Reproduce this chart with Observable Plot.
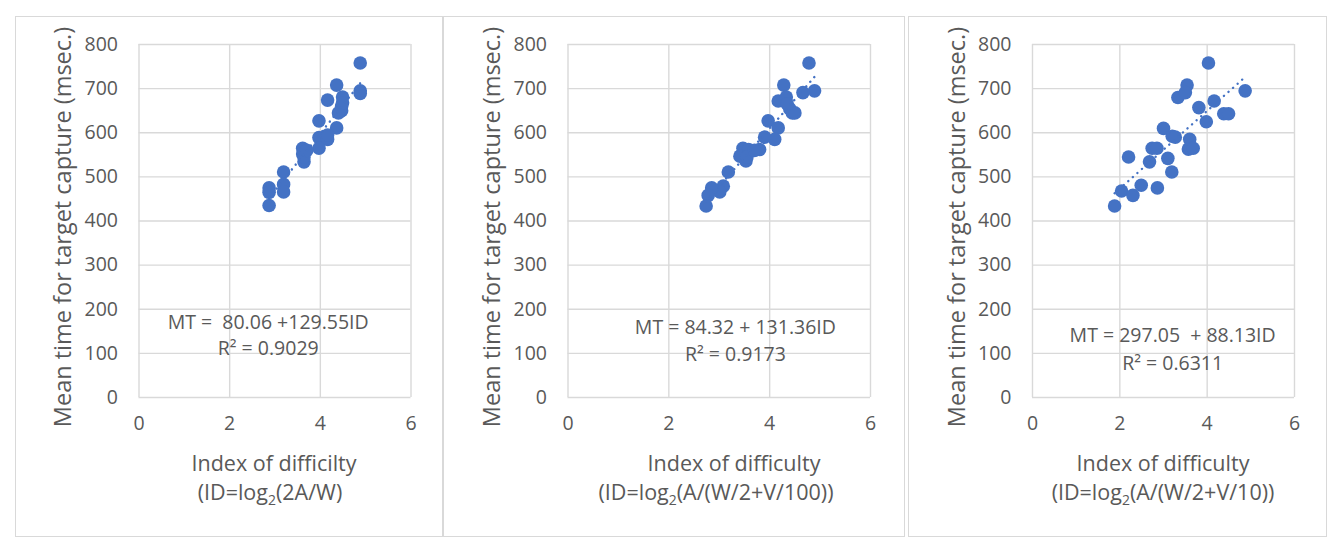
<!DOCTYPE html>
<html>
<head>
<meta charset="utf-8">
<script src="https://cdn.jsdelivr.net/npm/d3@7"></script>
<script src="https://cdn.jsdelivr.net/npm/@observablehq/plot@0.6"></script>
<style>
  html, body { margin: 0; padding: 0; background: #fff; }
  body { width: 1344px; height: 554px; position: relative; overflow: hidden; font-family: "Open Sans", sans-serif; color: #595959; }
  .panel { position: absolute; }
  .frame { position: absolute; border: 1.5px solid #d9d9d9; box-sizing: border-box; pointer-events: none; }
  .t { position: absolute; white-space: nowrap; transform: translate(-50%, -50%); font-size: 21.5px; color: #595959; line-height: 1; }
  .yt { transform: translate(-50%, -50%) rotate(-90deg); font-size: 23.5px; }
  sub { font-size: 0.65em; vertical-align: -0.3em; }
</style>
</head>
<body>
<script>
// ---- data ----
const xTicks = [0, 2, 4, 6];
const yTicks = [0, 100, 200, 300, 400, 500, 600, 700, 800];

const ID1 = [4.88, 4.88, 4.88, 4.36, 4.16, 4.49, 4.47, 4.47, 4.40, 3.97, 4.36, 3.97, 4.16, 4.16, 3.97, 3.61, 3.61, 3.64, 3.64, 3.70, 3.19, 3.19, 3.19, 2.87, 2.87, 2.87, 4.49];
const MT1 = [758, 695, 689, 708, 674, 681, 660, 650, 645, 627, 611, 589, 585, 595, 565, 565, 552, 534, 545, 560, 511, 483, 466, 475, 465, 435, 668];

const ID2 = [4.78, 4.28, 4.66, 4.89, 4.17, 4.33, 4.40, 4.45, 4.50, 3.97, 4.17, 4.10, 3.90, 3.80, 3.47, 3.58, 3.41, 3.53, 3.55, 3.70, 3.18, 3.08, 3.01, 2.85, 2.78, 2.74, 4.35];
const MT2 = [758, 708, 691, 695, 672, 681, 654, 645, 645, 627, 611, 585, 590, 562, 565, 562, 547, 536, 545, 560, 511, 479, 466, 475, 458, 434, 665];

const ID3 = [4.03, 3.54, 3.33, 3.50, 4.87, 4.16, 3.81, 4.38, 4.49, 3.98, 3.00, 3.20, 3.27, 3.60, 3.57, 3.68, 2.74, 2.85, 3.10, 2.68, 2.20, 3.19, 2.49, 2.86, 2.04, 2.30, 1.88];
const MT3 = [758, 708, 680, 691, 695, 672, 657, 643, 643, 625, 610, 592, 590, 585, 563, 565, 565, 565, 542, 534, 545, 511, 481, 475, 468, 458, 434];

const intercepts = [80.06, 84.32, 297.05];
const slopes = [129.55, 131.36, 88.13];
const eqLabels = ["MT =  80.06 +129.55ID", "MT = 84.32 + 131.36ID", "MT = 297.05  + 88.13ID"];
const r2Labels = ["R\u00B2 = 0.9029", "R\u00B2 = 0.9173", "R\u00B2 = 0.6311"];
const yTitle = "Mean time for target capture (msec.)";
const xTitle1 = ["Index of difficilty", "Index of difficulty", "Index of difficulty"];
const xTitle2 = ["(ID=log<sub>2</sub>(2A/W)", "(ID=log<sub>2</sub>(A/(W/2+V/100))", "(ID=log<sub>2</sub>(A/(W/2+V/10))"];

// ---- layout ----
const panels = [
  {ids: ID1, mts: MT1, left: 15,  width: 428, ml: 123.5, mr: 32.5, eq: [2.85, 170, 110], yt: 63,  xt1: 274, xt2: 270},
  {ids: ID2, mts: MT2, left: 443, width: 462, ml: 124.5, mr: 35,   eq: [3.32, 159, 98],  yt: 492, xt1: 734, xt2: 716},
  {ids: ID3, mts: MT3, left: 908, width: 419, ml: 124,   mr: 33,   eq: [3.21, 141, 77],  yt: 957, xt1: 1163, xt2: 1163}
];
const panelTop = 16, H = 521, mTop = 28, mBottom = 140;

panels.forEach((p, i) => {
  const pts = p.ids.map((d, k) => ({x: d, y: p.mts[k]}));
  const [x0, x1] = d3.extent(p.ids);
  const trend = [x0, x1].map(x => ({x, y: intercepts[i] + slopes[i] * x}));
  const chart = Plot.plot({
    width: p.width, height: H,
    marginLeft: p.ml, marginRight: p.mr, marginTop: mTop, marginBottom: mBottom,
    style: {fontFamily: "Open Sans, sans-serif", fontSize: "19px", color: "#595959", background: "transparent", overflow: "visible"},
    x: {domain: [0, 6]},
    y: {domain: [0, 800]},
    marks: [
      Plot.ruleX(xTicks, {stroke: "#d9d9d9", strokeWidth: 1.4}),
      Plot.ruleY(yTicks, {stroke: "#d9d9d9", strokeWidth: 1.4}),
      Plot.axisX(xTicks, {tickSize: 0, tickPadding: 19, label: null, fontSize: 19.5, fill: "#595959"}),
      Plot.axisY(yTicks, {tickSize: 0, tickPadding: 21, label: null, fontSize: 19.5, fill: "#595959"}),
      Plot.dot(pts, {x: "x", y: "y", r: 6.8, fill: "#4472C4", stroke: "none"}),
      Plot.line(trend, {x: "x", y: "y", stroke: "#4472C4", strokeWidth: 2.4, strokeDasharray: "0.1,6", strokeLinecap: "round"}),
      Plot.text([eqLabels[i]], {x: p.eq[0], y: p.eq[1], text: d => d, fontSize: 19.5, fill: "#595959"}),
      Plot.text([r2Labels[i]], {x: p.eq[0], y: p.eq[2], text: d => d, fontSize: 19.5, fill: "#595959"})
    ]
  });
  chart.classList.add("panel");
  chart.style.left = p.left + "px";
  chart.style.top = panelTop + "px";
  document.body.appendChild(chart);

  const fr = document.createElement("div");
  fr.className = "frame";
  Object.assign(fr.style, {left: p.left + "px", top: panelTop + "px", width: p.width + "px", height: H + "px"});
  document.body.appendChild(fr);

  const yt = document.createElement("div");
  yt.className = "t yt";
  yt.textContent = yTitle;
  Object.assign(yt.style, {left: p.yt + "px", top: "227px"});
  document.body.appendChild(yt);

  const a = document.createElement("div");
  a.className = "t";
  a.textContent = xTitle1[i];
  Object.assign(a.style, {left: p.xt1 + "px", top: "463px"});
  document.body.appendChild(a);

  const b = document.createElement("div");
  b.className = "t";
  b.innerHTML = xTitle2[i];
  Object.assign(b.style, {left: p.xt2 + "px", top: "494px"});
  document.body.appendChild(b);
});
</script>
</body>
</html>
